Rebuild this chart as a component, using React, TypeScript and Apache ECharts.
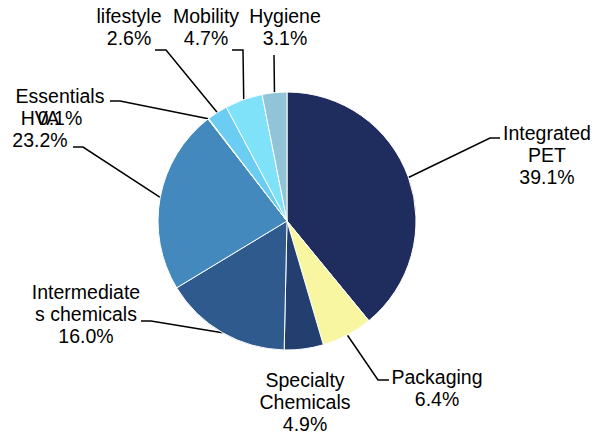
import React, { useEffect, useRef } from "react";
import * as echarts from "echarts";

const categories = [
  "Integrated\nPET",
  "Packaging",
  "Specialty\nChemicals",
  "Intermediate\ns chemicals",
  "HVA",
  "Essentials",
  "lifestyle",
  "Mobility",
  "Hygiene",
];
const shares = [39.1, 6.4, 4.9, 16.0, 23.2, 0.1, 2.6, 4.7, 3.1];
const colors = [
  "#1f2d5e",
  "#f8f6a0",
  "#233f70",
  "#2f5a8e",
  "#4389bd",
  "#58b4e4",
  "#6ccdf3",
  "#7fe2f8",
  "#91c4d6",
];

// label placement: [centerX, topY], and leader line elbow/end points
const labelPos: [number, number][] = [
  [547, 122],
  [437, 366],
  [305, 369],
  [86, 281],
  [40, 107],
  [60, 85],
  [129, 5],
  [206, 5],
  [285, 5],
];
const lineBend: ([number, number][] | null)[] = [
  [[490, 138], [500, 138]],
  [[378, 380], [389, 380]],
  null,
  [[151, 321], [141, 321]],
  [[83, 147], [73, 147]],
  [[120, 101], [110, 101]],
  [[166, 50], [155, 50]],
  [[243, 50], [232, 50]],
  [[274, 55]],
];

export default function App() {
  const ref = useRef<HTMLDivElement>(null);
  useEffect(() => {
    if (!ref.current) return;
    const chart = echarts.init(ref.current, undefined, { renderer: "svg" });
    const cx = 287;
    const cy = 221;
    const r = 129;
    const total = shares.reduce((a, b) => a + b, 0);
    const edgePoints: [number, number][] = [];
    let acc = 0;
    shares.forEach((v) => {
      const mid = ((acc + v / 2) / total) * Math.PI * 2;
      edgePoints.push([cx + r * Math.sin(mid), cy - r * Math.cos(mid)]);
      acc += v;
    });
    chart.setOption({
      animation: false,
      backgroundColor: "#ffffff",
      series: [
        {
          type: "pie",
          center: [cx, cy],
          radius: r,
          startAngle: 90,
          clockwise: true,
          avoidLabelOverlap: false,
          itemStyle: { borderColor: "#ffffff", borderWidth: 1 },
          label: {
            show: true,
            position: "outside",
            color: "#000000",
            fontFamily: "Liberation Sans, Arial, sans-serif",
            fontSize: 19.5,
            lineHeight: 22,
            align: "center",
            formatter: (p: any) => `${p.name}\n${Number(p.value).toFixed(1)}%`,
          },
          labelLine: {
            show: true,
            length: 10,
            length2: 10,
            lineStyle: { color: "#000000", width: 1.5 },
          },
          labelLayout: (params: any) => {
            const i = params.dataIndex;
            const [x, y] = labelPos[i];
            const bend = lineBend[i];
            const res: any = { x, y, align: "center", verticalAlign: "top" };
            if (bend) {
              res.labelLinePoints = [edgePoints[i], ...bend];
            }
            return res;
          },
          data: categories.map((name, i) => ({
            name,
            value: shares[i],
            itemStyle: { color: colors[i] },
            labelLine: { show: lineBend[i] !== null },
          })),
        },
      ],
    });
    return () => chart.dispose();
  }, []);
  return (
    <div
      ref={ref}
      style={{ position: "absolute", left: 0, top: 0, width: 600, height: 434 }}
    />
  );
}
